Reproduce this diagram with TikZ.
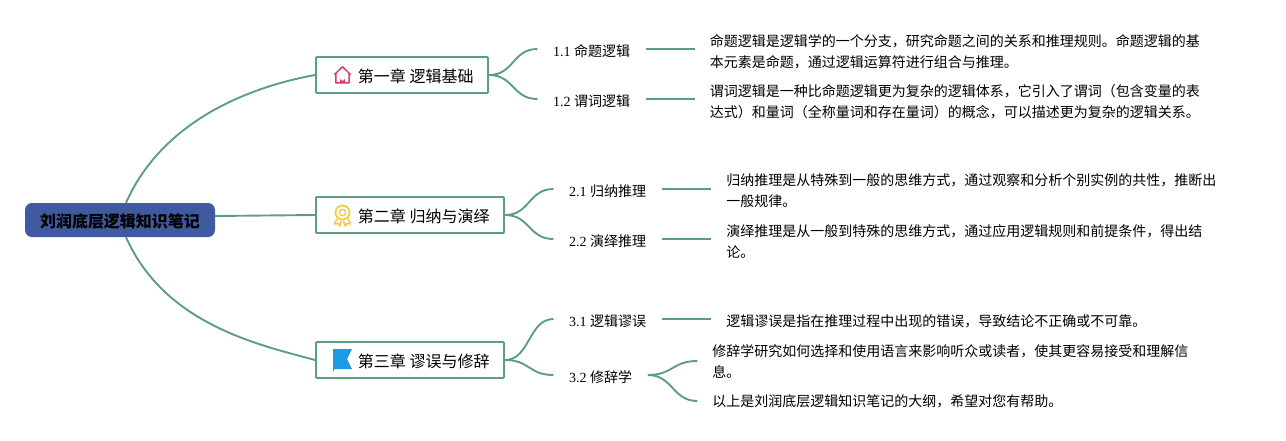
\documentclass[tikz,border=0pt]{standalone}
\usepackage{fontspec}
\setmainfont{Noto Sans CJK SC}
\newfontfamily\numfont{Liberation Serif}
\usetikzlibrary{positioning, calc}
\definecolor{linkgreen}{HTML}{5E9C8A}
\definecolor{rootblue}{HTML}{3F5A9E}
\definecolor{homered}{HTML}{DC3C64}
\definecolor{medalgold}{HTML}{F9C843}
\definecolor{flagblue}{HTML}{1A9BE3}

\begin{document}
\begin{tikzpicture}[
    x=1pt, y=-1pt,
    link/.style={draw=linkgreen, line width=1.9pt},
    rootnode/.style={fill=rootblue, rounded corners=7pt, minimum width=190pt, minimum height=34pt, inner sep=0pt, text height=16pt, text depth=2pt, font=\fontsize{16}{20}\selectfont\bfseries},
    chapter/.style={draw=linkgreen, line width=1.9pt, rounded corners=1pt, minimum height=36pt, inner xsep=14.5pt, inner ysep=0pt, text height=16pt, text depth=2pt, font=\fontsize{16}{20}\selectfont},
    section/.style={inner xsep=15.5pt, inner ysep=0pt, text height=16pt, text depth=2pt, font=\fontsize{14}{21}\selectfont},
    detail/.style={align=left, inner xsep=14.7pt, inner ysep=0pt, font=\fontsize{14}{21}\selectfont}
  ]
    \useasboundingbox (0,0) rectangle (1286,440);
    \node[rootnode] (root) at (120,220) {刘润底层逻辑知识笔记};
    \node[chapter, anchor=west] (ch1) at (315,75) {\hspace*{27.5pt}第一章 逻辑基础};
    \node[chapter, anchor=west] (ch2) at (315,215) {\hspace*{27.5pt}第二章 归纳与演绎};
    \node[chapter, anchor=west] (ch3) at (315,360) {\hspace*{27.5pt}第三章 谬误与修辞};
    % first chapter
    \node[section, above right=26pt and 48.5pt of ch1.east, anchor=west] (sec11) {{\numfont 1.1 }命题逻辑};
    \node[section, below right=24pt and 48.5pt of ch1.east, anchor=west] (sec12) {{\numfont 1.2 }谓词逻辑};
    \node[detail, right=49pt of sec11, yshift=-2.5pt] (txt11)
    {命题逻辑是逻辑学的一个分支，研究命题之间的关系和推理规则。命题逻辑的基\\
     本元素是命题，通过逻辑运算符进行组合与推理。};
    \node[detail, right=49pt of sec12, yshift=-2.5pt] (txt12)
    {谓词逻辑是一种比命题逻辑更为复杂的逻辑体系，它引入了谓词（包含变量的表\\
     达式）和量词（全称量词和存在量词）的概念，可以描述更为复杂的逻辑关系。};
    % second chapter
    \node[section, above right=26pt and 48.5pt of ch2.east, anchor=west] (sec21) {{\numfont 2.1 }归纳推理};
    \node[section, below right=24pt and 48.5pt of ch2.east, anchor=west] (sec22) {{\numfont 2.2 }演绎推理};
    \node[detail, right=49.5pt of sec21, yshift=-2pt] (txt21)
    {归纳推理是从特殊到一般的思维方式，通过观察和分析个别实例的共性，推断出\\
     一般规律。};
    \node[detail, right=49.5pt of sec22, yshift=-2pt] (txt22)
    {演绎推理是从一般到特殊的思维方式，通过应用逻辑规则和前提条件，得出结\\
     论。};
    % third chapter
    \node[section, above right=41pt and 48.5pt of ch3.east, anchor=west] (sec31) {{\numfont 3.1 }逻辑谬误};
    \node[section, below right=15pt and 48.5pt of ch3.east, anchor=west] (sec32) {{\numfont 3.2 }修辞学};
    \node[detail, right=49.5pt of sec31, yshift=-2pt] (txt31)
    {逻辑谬误是指在推理过程中出现的错误，导致结论不正确或不可靠。};
    \node[detail, above right=14pt and 49.5pt of sec32.east, anchor=west] (txt32a)
    {修辞学研究如何选择和使用语言来影响听众或读者，使其更容易接受和理解信\\
     息。};
    \node[detail, below right=26pt and 49.5pt of sec32.east, anchor=west] (txt32b)
    {以上是刘润底层逻辑知识笔记的大纲，希望对您有帮助。};
    % links
    \draw[link] ($(root.north)+(6,0)$) .. controls (165,115) and (260,85) .. (ch1.west);
    \draw[link] ($(root.east)+(0,-4)$) -- (ch2.west);
    \draw[link] ($(root.south)+(6,0)$) .. controls (165,325) and (260,345) .. (ch3.west);
    \foreach \from/\to in {ch1/sec11, ch1/sec12, ch2/sec21, ch2/sec22, ch3/sec31, ch3/sec32, sec32/txt32a, sec32/txt32b}
      \draw[link] (\from.east) .. controls +(25,0) and +(-25,0) .. (\to.west);
    \foreach \from/\to in {sec11/txt11, sec12/txt12, sec21/txt21, sec22/txt22, sec31/txt31}
      \draw[link] (\from.east) -- (\from.east -| \to.west);
    % icons
    \draw[homered, line width=1.5pt, line join=round] (334.5,74.5) -- (342.5,66.8) -- (350.5,74.5) (335.8,73.5) -- (335.8,82.8) -- (349.2,82.8) -- (349.2,73.5);
    \fill[homered] (340.2,83) -- (340.2,78.5) arc[start angle=180, end angle=0, radius=2.3] -- (344.8,83) -- cycle;
    \draw[medalgold, line width=1.7pt] (342.5,212.5) circle[radius=7];
    \draw[medalgold, line width=1.4pt] (342.5,212.5) circle[radius=3.2];
    \draw[medalgold, line width=1.5pt, line join=round] (337,218.5) -- (334.5,224) -- (338,223.5) -- (340,226) -- (341.5,220.5) (348,218.5) -- (350.5,224) -- (347,223.5) -- (345,226) -- (343.5,220.5);
    \fill[flagblue] (333,349) -- (352,349) -- (347,359) -- (352,369) -- (334,369) -- (334,371) -- (333,371) -- cycle;
  \end{tikzpicture}
\end{document}
